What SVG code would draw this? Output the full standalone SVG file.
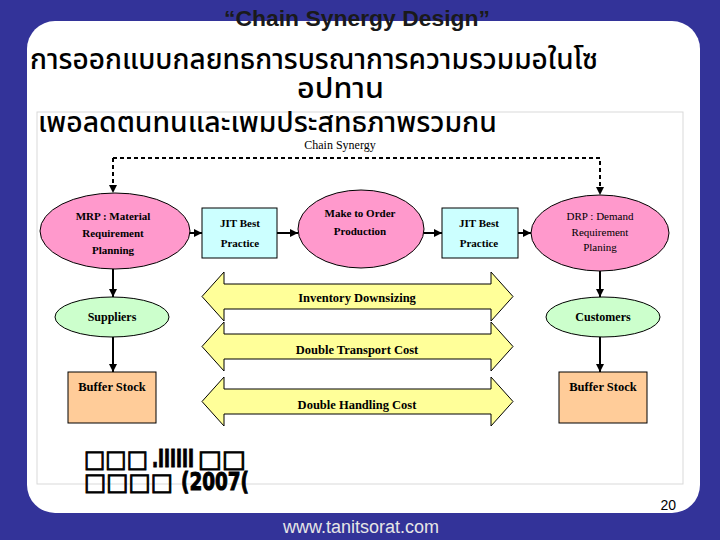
<svg xmlns="http://www.w3.org/2000/svg" width="720" height="540" viewBox="0 0 720 540">
<defs>
<marker id="ah" markerUnits="userSpaceOnUse" markerWidth="8" markerHeight="8" refX="8" refY="4" orient="auto">
<path d="M0,0 L8,4 L0,8 Z" fill="#000"/>
</marker>
<style>
.thai{font-family:"Noto Sans Thai","Noto Sans Thai UI","Loma","Garuda","Norasi","DejaVu Sans",sans-serif;font-weight:500;fill:#000}
.lbl{font-family:"Liberation Serif","Times New Roman",serif;font-size:11px;fill:#000;text-anchor:middle}
.b{font-weight:bold}
.ell{stroke:#000;stroke-width:1}
.pink{fill:#ff99cc}
.cyan{fill:#ccffff;stroke:#000;stroke-width:1}
.green{fill:#ccffcc}
.peach{fill:#ffcc99;stroke:#000;stroke-width:1}
.yarrow{fill:#ffff99;stroke:#000;stroke-width:1}
.con{fill:none;stroke:#000;stroke-width:2}
.dash{stroke-dasharray:4 3}
.tofu{font-family:"DejaVu Sans",sans-serif;font-size:24px;font-weight:bold;fill:#000;stroke:#000;stroke-width:1}
</style>
</defs>
<rect x="0" y="0" width="720" height="540" fill="#333399"/>
<rect x="27" y="21" width="673" height="492" rx="28" ry="28" fill="#ffffff"/>
<rect x="37" y="112" width="646" height="372" fill="none" stroke="#d9d9d9" stroke-width="1"/>

<text x="357" y="26" text-anchor="middle" font-family="Liberation Sans, Arial, sans-serif" font-size="22" font-weight="bold" fill="#1a1a1a" textLength="266" lengthAdjust="spacingAndGlyphs">“Chain Synergy Design”</text>
<text class="thai" x="30" y="69" font-size="29" textLength="568" lengthAdjust="spacingAndGlyphs">การออกแบบกลยทธการบรณาการความรวมมอในโซ</text>
<text class="thai" x="297" y="98" font-size="29" textLength="87" lengthAdjust="spacingAndGlyphs">อปทาน</text>
<text class="thai" x="38" y="132" font-size="29" textLength="459" lengthAdjust="spacingAndGlyphs">เพอลดตนทนและเพมประสทธภาพรวมกน</text>
<text class="lbl" x="340" y="149" style="font-size:12px">Chain  Synergy</text>

<g id="connectors">
<path class="con dash" d="M113,158 V193" marker-end="url(#ah)"/>
<path class="con dash" d="M113,158 H600 V195" marker-end="url(#ah)"/>
<path class="con" d="M189,233 H202" marker-end="url(#ah)"/>
<path class="con" d="M277,233 H298" marker-end="url(#ah)"/>
<path class="con" d="M423,233 H442" marker-end="url(#ah)"/>
<path class="con" d="M518,233 H531" marker-end="url(#ah)"/>
<path class="con" d="M113,269 V297" marker-end="url(#ah)"/>
<path class="con" d="M113,337 V372" marker-end="url(#ah)"/>
<path class="con" d="M600,271 V297" marker-end="url(#ah)"/>
<path class="con" d="M600,337 V372" marker-end="url(#ah)"/>
</g>

<g id="mrp">
<ellipse class="ell pink" cx="115" cy="231" rx="75" ry="38"/>
<text class="lbl b" x="113" y="220">MRP : Material</text>
<text class="lbl b" x="113" y="237">Requirement</text>
<text class="lbl b" x="113" y="254">Planning</text>
</g>
<g id="jit1">
<rect class="cyan" x="202" y="208" width="75" height="50"/>
<text class="lbl b" x="240" y="227">JIT Best</text>
<text class="lbl b" x="240" y="247">Practice</text>
</g>
<g id="mto">
<ellipse class="ell pink" cx="361" cy="229" rx="63" ry="39"/>
<text class="lbl b" x="360" y="217">Make to Order</text>
<text class="lbl b" x="360" y="235">Production</text>
</g>
<g id="jit2">
<rect class="cyan" x="442" y="208" width="76" height="50"/>
<text class="lbl b" x="479" y="227">JIT Best</text>
<text class="lbl b" x="479" y="247">Practice</text>
</g>
<g id="drp">
<ellipse class="ell pink" cx="600" cy="233" rx="69" ry="38"/>
<text class="lbl" x="600" y="220">DRP : Demand</text>
<text class="lbl" x="600" y="236">Requirement</text>
<text class="lbl" x="600" y="251">Planing</text>
</g>

<g id="arrow-inventory">
<polygon class="yarrow" points="202,296.5 224,272 224,284 491,284 491,272 513,296.5 491,321 491,309 224,309 224,321"/>
<text class="lbl b" x="357" y="302" style="font-size:12.5px">Inventory Downsizing</text>
</g>
<g id="arrow-transport">
<polygon class="yarrow" points="202,346.5 224,322 224,334 491,334 491,322 513,346.5 491,371 491,359 224,359 224,371"/>
<text class="lbl b" x="357" y="354" style="font-size:12.5px">Double Transport Cost</text>
</g>
<g id="arrow-handling">
<polygon class="yarrow" points="202,401.5 224,377 224,389 491,389 491,377 513,401.5 491,426 491,414 224,414 224,426"/>
<text class="lbl b" x="357" y="409" style="font-size:12.5px">Double Handling Cost</text>
</g>

<g id="suppliers">
<ellipse class="ell green" cx="112" cy="317" rx="57" ry="20"/>
<text class="lbl b" x="112" y="321" style="font-size:12px">Suppliers</text>
</g>
<g id="customers">
<ellipse class="ell green" cx="603" cy="317" rx="57" ry="20"/>
<text class="lbl b" x="603" y="321" style="font-size:12px">Customers</text>
</g>
<g id="buffer-left">
<rect class="peach" x="68" y="372" width="88" height="51"/>
<text class="lbl b" x="112" y="391" style="font-size:12.5px">Buffer Stock</text>
</g>
<g id="buffer-right">
<rect class="peach" x="559" y="372" width="88" height="51"/>
<text class="lbl b" x="603" y="391" style="font-size:12.5px">Buffer Stock</text>
</g>

<text class="tofu" x="84" y="467"><tspan textLength="64" lengthAdjust="spacingAndGlyphs">□□□</tspan><tspan x="152" textLength="42" lengthAdjust="spacingAndGlyphs">.IIIIII</tspan><tspan x="198" textLength="48" lengthAdjust="spacingAndGlyphs">□□</tspan></text>
<text class="tofu" x="84" y="490"><tspan textLength="89" lengthAdjust="spacingAndGlyphs">□□□□</tspan><tspan x="181" textLength="68" lengthAdjust="spacingAndGlyphs">(2007(</tspan></text>

<text x="676" y="510" text-anchor="end" font-family="Liberation Sans, Arial, sans-serif" font-size="14" fill="#000">20</text>
<text x="361" y="533" text-anchor="middle" font-family="Liberation Sans, Arial, sans-serif" font-size="18" fill="#e6e6e6">www.tanitsorat.com</text>
</svg>
